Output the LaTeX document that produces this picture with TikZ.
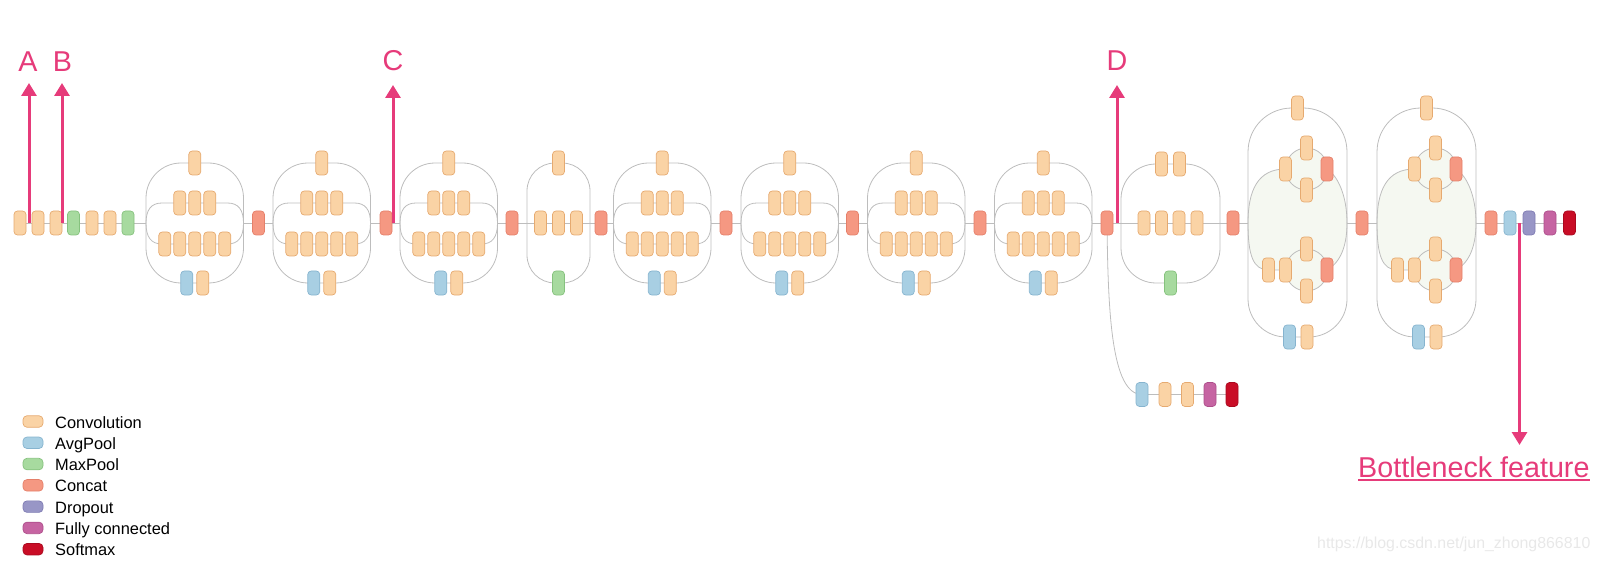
\documentclass[tikz,border=0pt]{standalone}
\usepackage{fontspec}
\setmainfont{Liberation Sans}
\usetikzlibrary{arrows.meta}
\pgfdeclarelayer{fillL}
\pgfdeclarelayer{bg}
\pgfsetlayers{fillL,bg,main}
\definecolor{convF}{HTML}{FAD3A5}\definecolor{convD}{HTML}{E6AA70}
\definecolor{avgF}{HTML}{A8CFE3}\definecolor{avgD}{HTML}{86B4CF}
\definecolor{maxF}{HTML}{A7DA9F}\definecolor{maxD}{HTML}{86C27E}
\definecolor{catF}{HTML}{F59882}\definecolor{catD}{HTML}{E5806A}
\definecolor{dropF}{HTML}{9896C6}\definecolor{dropD}{HTML}{7F7CB3}
\definecolor{fcF}{HTML}{C664A2}\definecolor{fcD}{HTML}{AE4E8B}
\definecolor{smF}{HTML}{C90D26}\definecolor{smD}{HTML}{A90A1F}
\definecolor{pinkC}{HTML}{E63B7A}
\definecolor{wireC}{HTML}{BDBDBD}
\definecolor{regC}{HTML}{F5F8F1}
\tikzset{
 blk/.style={rectangle, rounded corners=3.5pt, minimum width=12pt, minimum height=24pt, inner sep=0pt, line width=0.7pt},
 conv/.style={blk, fill=convF, draw=convD},
 avgp/.style={blk, fill=avgF, draw=avgD},
 maxp/.style={blk, fill=maxF, draw=maxD},
 cat/.style={blk, fill=catF, draw=catD},
 drop/.style={blk, fill=dropF, draw=dropD},
 fc/.style={blk, fill=fcF, draw=fcD},
 smax/.style={blk, fill=smF, draw=smD},
 wire/.style={draw=wireC, line width=0.8pt},
 regF/.style={fill=regC},
 lab/.style={text=pinkC, inner sep=0pt, font=\fontsize{28.7}{34}\selectfont},
 parrow/.style={draw=pinkC, line width=3pt, -{Triangle[width=15pt,length=13pt]}},
 legt/.style={inner sep=0pt, font=\fontsize{16.4}{19}\selectfont},
 swatch/.style={minimum width=20pt, minimum height=11.5pt, rounded corners=4pt},
}
% standard inception module
\newcommand\modA[2]{%
 \pgfmathsetmacro\mL{#2}\pgfmathsetmacro\mC{#2+48.75}\pgfmathsetmacro\mR{#2+97.5}%
 \coordinate (#1l) at (\mL,223);
 \coordinate (#1r) at (\mR,223);
 \node[conv] (#1t) at (\mC,163) {};
 \node[conv] (#1ua) at (\mC-15,203) {};
 \node[conv] (#1ub) at (\mC,203) {};
 \node[conv] (#1uc) at (\mC+15,203) {};
 \node[conv] (#1ma) at (\mC-30,244) {};
 \node[conv] (#1mb) at (\mC-15,244) {};
 \node[conv] (#1mc) at (\mC,244) {};
 \node[conv] (#1md) at (\mC+15,244) {};
 \node[conv] (#1me) at (\mC+30,244) {};
 \node[avgp] (#1ba) at (\mC-8,283) {};
 \node[conv] (#1bb) at (\mC+8,283) {};
 \begin{pgfonlayer}{bg}
 \draw[wire] (#1l) -- (\mL,198) .. controls (\mL,178.7) and (\mL+15.7,163) .. (\mL+35,163) -- (#1t.center) -- (\mR-35,163) .. controls (\mR-15.7,163) and (\mR,178.7) .. (\mR,198) -- (#1r);
 \draw[wire] (#1l) -- (\mL,248) .. controls (\mL,267.3) and (\mL+15.7,283) .. (\mL+35,283) -- (#1ba.center) -- (#1bb.center) -- (\mR-35,283) .. controls (\mR-15.7,283) and (\mR,267.3) .. (\mR,248) -- (#1r);
 \draw[wire] (#1l) .. controls (\mL,210) and (\mL+5,203) .. (\mL+16,203) -- (#1ua.center) -- (#1ub.center) -- (#1uc.center) -- (\mR-16,203) .. controls (\mR-5,203) and (\mR,210) .. (#1r);
 \draw[wire] (#1l) .. controls (\mL,237) and (\mL+5,244) .. (\mL+16,244) -- (#1ma.center) -- (#1mb.center) -- (#1mc.center) -- (#1md.center) -- (#1me.center) -- (\mR-16,244) .. controls (\mR-5,244) and (\mR,237) .. (#1r);
 \end{pgfonlayer}
}
% reduction A
\newcommand\modB[2]{%
 \pgfmathsetmacro\mL{#2}\pgfmathsetmacro\mC{#2+31.5}\pgfmathsetmacro\mR{#2+63}%
 \coordinate (#1l) at (\mL,223);
 \coordinate (#1r) at (\mR,223);
 \node[conv] (#1t) at (\mC,163) {};
 \node[conv] (#1a) at (\mC-18,223) {};
 \node[conv] (#1b) at (\mC,223) {};
 \node[conv] (#1c) at (\mC+18,223) {};
 \node[maxp] (#1g) at (\mC,283) {};
 \begin{pgfonlayer}{bg}
 \draw[wire] (#1l) -- (\mL,191) .. controls (\mL,175.5) and (\mL+12.5,163) .. (\mL+28,163) -- (#1t.center) -- (\mR-28,163) .. controls (\mR-12.5,163) and (\mR,175.5) .. (\mR,191) -- (#1r);
 \draw[wire] (#1l) -- (\mL,255) .. controls (\mL,270.5) and (\mL+12.5,283) .. (\mL+28,283) -- (#1g.center) -- (\mR-28,283) .. controls (\mR-12.5,283) and (\mR,270.5) .. (\mR,255) -- (#1r);
 \draw[wire] (#1l) -- (#1a) -- (#1b) -- (#1c) -- (#1r);
 \end{pgfonlayer}
}
% reduction B
\newcommand\modR[2]{%
 \pgfmathsetmacro\mL{#2}\pgfmathsetmacro\mC{#2+49.5}\pgfmathsetmacro\mR{#2+99}%
 \coordinate (#1l) at (\mL,223);
 \coordinate (#1r) at (\mR,223);
 \node[conv] (#1ta) at (\mC-9,164) {};
 \node[conv] (#1tb) at (\mC+9,164) {};
 \node[conv] (#1a) at (\mC-26.5,223) {};
 \node[conv] (#1b) at (\mC-9,223) {};
 \node[conv] (#1c) at (\mC+8.5,223) {};
 \node[conv] (#1d) at (\mC+26.5,223) {};
 \node[maxp] (#1g) at (\mC,283) {};
 \begin{pgfonlayer}{bg}
 \draw[wire] (#1l) -- (\mL,199) .. controls (\mL,179.7) and (\mL+15.7,164) .. (\mL+35,164) -- (#1ta.center) -- (#1tb.center) -- (\mR-35,164) .. controls (\mR-15.7,164) and (\mR,179.7) .. (\mR,199) -- (#1r);
 \draw[wire] (#1l) -- (\mL,248) .. controls (\mL,267.3) and (\mL+15.7,283) .. (\mL+35,283) -- (#1g.center) -- (\mR-35,283) .. controls (\mR-15.7,283) and (\mR,267.3) .. (\mR,248) -- (#1r);
 \draw[wire] (#1l) -- (#1a) -- (#1b) -- (#1c) -- (#1d) -- (#1r);
 \end{pgfonlayer}
}
% expanded module
\newcommand\modC[2]{%
 \pgfmathsetmacro\mL{#2}\pgfmathsetmacro\mR{#2+99}%
 \coordinate (#1l) at (\mL,223);
 \coordinate (#1r) at (\mR,223);
 \node[conv] (#1t) at (\mL+49.5,108) {};
 \node[conv] (#1ut) at (\mL+58.5,148) {};
 \node[conv] (#1ul) at (\mL+37.5,169) {};
 \node[conv] (#1ub) at (\mL+58.5,190) {};
 \node[cat] (#1uk) at (\mL+79,169) {};
 \node[conv] (#1lt) at (\mL+58.5,249) {};
 \node[conv] (#1lx) at (\mL+20.5,270) {};
 \node[conv] (#1ll) at (\mL+37.5,270) {};
 \node[conv] (#1lb) at (\mL+58.5,291) {};
 \node[cat] (#1lk) at (\mL+79,270) {};
 \node[avgp] (#1ba) at (\mL+41.5,337) {};
 \node[conv] (#1bb) at (\mL+59,337) {};
 \begin{pgfonlayer}{fillL}
 \fill[regF] (#1l) .. controls (\mL,190) and (\mL+10,169) .. (#1ul.center) -- (#1uk.center) .. controls (\mL+90,176) and (\mR,196) .. (#1r) .. controls (\mR,250) and (\mL+90,264) .. (#1lk.center) -- (#1lx.center) .. controls (\mL+5,270) and (\mL,255) .. (#1l) -- cycle;
 \fill[regF] (\mL+58.5,169) circle[radius=21pt];
 \fill[regF] (\mL+58.5,270) circle[radius=21pt];
 \end{pgfonlayer}
 \begin{pgfonlayer}{bg}
 \draw[wire] (#1l) -- (\mL,152) .. controls (\mL,127.2) and (\mL+19.7,108) .. (\mL+44,108) -- (#1t.center) -- (\mR-44,108) .. controls (\mR-19.7,108) and (\mR,127.2) .. (\mR,152) -- (#1r);
 \draw[wire] (#1l) -- (\mL,299) .. controls (\mL,320) and (\mL+17,337) .. (\mL+38,337) -- (#1ba.center) -- (#1bb.center) -- (\mR-38,337) .. controls (\mR-17,337) and (\mR,320) .. (\mR,299) -- (#1r);
 \draw[wire] (\mL+58.5,169) circle[radius=21pt];
 \draw[wire] (\mL+58.5,270) circle[radius=21pt];
 \draw[wire] (#1l) .. controls (\mL,190) and (\mL+10,169) .. (#1ul.center);
 \draw[wire] (#1uk.center) .. controls (\mL+90,176) and (\mR,196) .. (#1r);
 \draw[wire] (#1l) .. controls (\mL,255) and (\mL+5,270) .. (#1lx.center) -- (#1ll.center);
 \draw[wire] (#1lk.center) .. controls (\mL+90,264) and (\mR,250) .. (#1r);
 \end{pgfonlayer}
}
\begin{document}
\begin{tikzpicture}[x=1pt,y=-1pt]
\useasboundingbox (0,0) rectangle (1600,561);
% stem
\node[conv] (s1) at (20,223) {};
\node[conv] (s2) at (38,223) {};
\node[conv] (s3) at (56,223) {};
\node[maxp] (s4) at (73.5,223) {};
\node[conv] (s5) at (92,223) {};
\node[conv] (s6) at (110,223) {};
\node[maxp] (s7) at (128,223) {};
\modA{m1}{146}
\node[cat] (k1) at (258.5,223) {};
\modA{m2}{273}
\node[cat] (k2) at (386,223) {};
\modA{m3}{400}
\node[cat] (k3) at (512,223) {};
\modB{m4}{527}
\node[cat] (k4) at (601,223) {};
\modA{m5}{613.5}
\node[cat] (k5) at (726,223) {};
\modA{m6}{741}
\node[cat] (k6) at (852.5,223) {};
\modA{m7}{867.5}
\node[cat] (k7) at (980,223) {};
\modA{m8}{994.5}
\node[cat] (k8) at (1107,223) {};
\modR{m9}{1121}
\node[cat] (k9) at (1233,223) {};
\modC{m10}{1248}
\node[cat] (k10) at (1362,223) {};
\modC{m11}{1377}
\node[cat] (k11) at (1491,223) {};
\node[avgp] (e1) at (1510,223) {};
\node[drop] (e2) at (1529,223) {};
\node[fc] (e3) at (1550,223) {};
\node[smax] (e4) at (1569.5,223) {};
% auxiliary branch
\node[avgp] (x1) at (1142,394.5) {};
\node[conv] (x2) at (1165,394.5) {};
\node[conv] (x3) at (1187.5,394.5) {};
\node[fc] (x4) at (1210,394.5) {};
\node[smax] (x5) at (1232,394.5) {};
\begin{pgfonlayer}{bg}
\draw[wire] (s1) -- (s2) -- (s3) -- (s4) -- (s5) -- (s6) -- (s7) -- (m1l);
\draw[wire] (m1r) -- (k1) -- (m2l);
\draw[wire] (m2r) -- (k2) -- (m3l);
\draw[wire] (m3r) -- (k3) -- (m4l);
\draw[wire] (m4r) -- (k4) -- (m5l);
\draw[wire] (m5r) -- (k5) -- (m6l);
\draw[wire] (m6r) -- (k6) -- (m7l);
\draw[wire] (m7r) -- (k7) -- (m8l);
\draw[wire] (m8r) -- (k8) -- (m9l);
\draw[wire] (m9r) -- (k9) -- (m10l);
\draw[wire] (m10r) -- (k10) -- (m11l);
\draw[wire] (m11r) -- (k11) -- (e1) -- (e2) -- (e3) -- (e4);
\draw[wire] (k8.center) .. controls (1108,310) and (1111,394.5) .. (x1.center);
\draw[wire] (x1) -- (x2) -- (x3) -- (x4) -- (x5);
\end{pgfonlayer}
% annotations
\node[lab] (lA) at (28,62) {A};
\node[lab] (lB) at (62.5,62) {B};
\node[lab] (lC) at (393,61) {C};
\node[lab] (lD) at (1117,61) {D};
\coordinate (aA0) at (29,223); \coordinate (aA1) at (29,83);
\coordinate (aB0) at (62,223); \coordinate (aB1) at (62,83);
\coordinate (aC0) at (393,223); \coordinate (aC1) at (393,85);
\coordinate (aD0) at (1117,223); \coordinate (aD1) at (1117,85);
\draw[parrow] (aA0) -- (aA1);
\draw[parrow] (aB0) -- (aB1);
\draw[parrow] (aC0) -- (aC1);
\draw[parrow] (aD0) -- (aD1);
\coordinate (bn0) at (1519.5,223); \coordinate (bn1) at (1519.5,445);
\draw[parrow] (bn0) -- (bn1);
\node[lab, anchor=base west] (bnt) at (1358,477) {Bottleneck feature};
\draw[draw=pinkC, line width=2pt] ([yshift=-3pt]bnt.base west) -- ([yshift=-3pt]bnt.base east);
% legend
\foreach \i/\s/\t in {1/conv/Convolution,2/avgp/AvgPool,3/maxp/MaxPool,4/cat/Concat,5/drop/Dropout,6/fc/Fully connected,7/smax/Softmax}{
 \node[\s, swatch] (g\i) at (33,{421.5+21.28*(\i-1)}) {};
 \node[legt, anchor=base west] (gt\i) at (55,{428+21.28*(\i-1)}) {\t};
}
% watermark
\node[inner sep=0pt, anchor=base west, text=black!9, font=\fontsize{15.9}{18}\selectfont] (wm) at (1317,548) {https://blog.csdn.net/jun\_zhong866810};
\end{tikzpicture}
\end{document}
